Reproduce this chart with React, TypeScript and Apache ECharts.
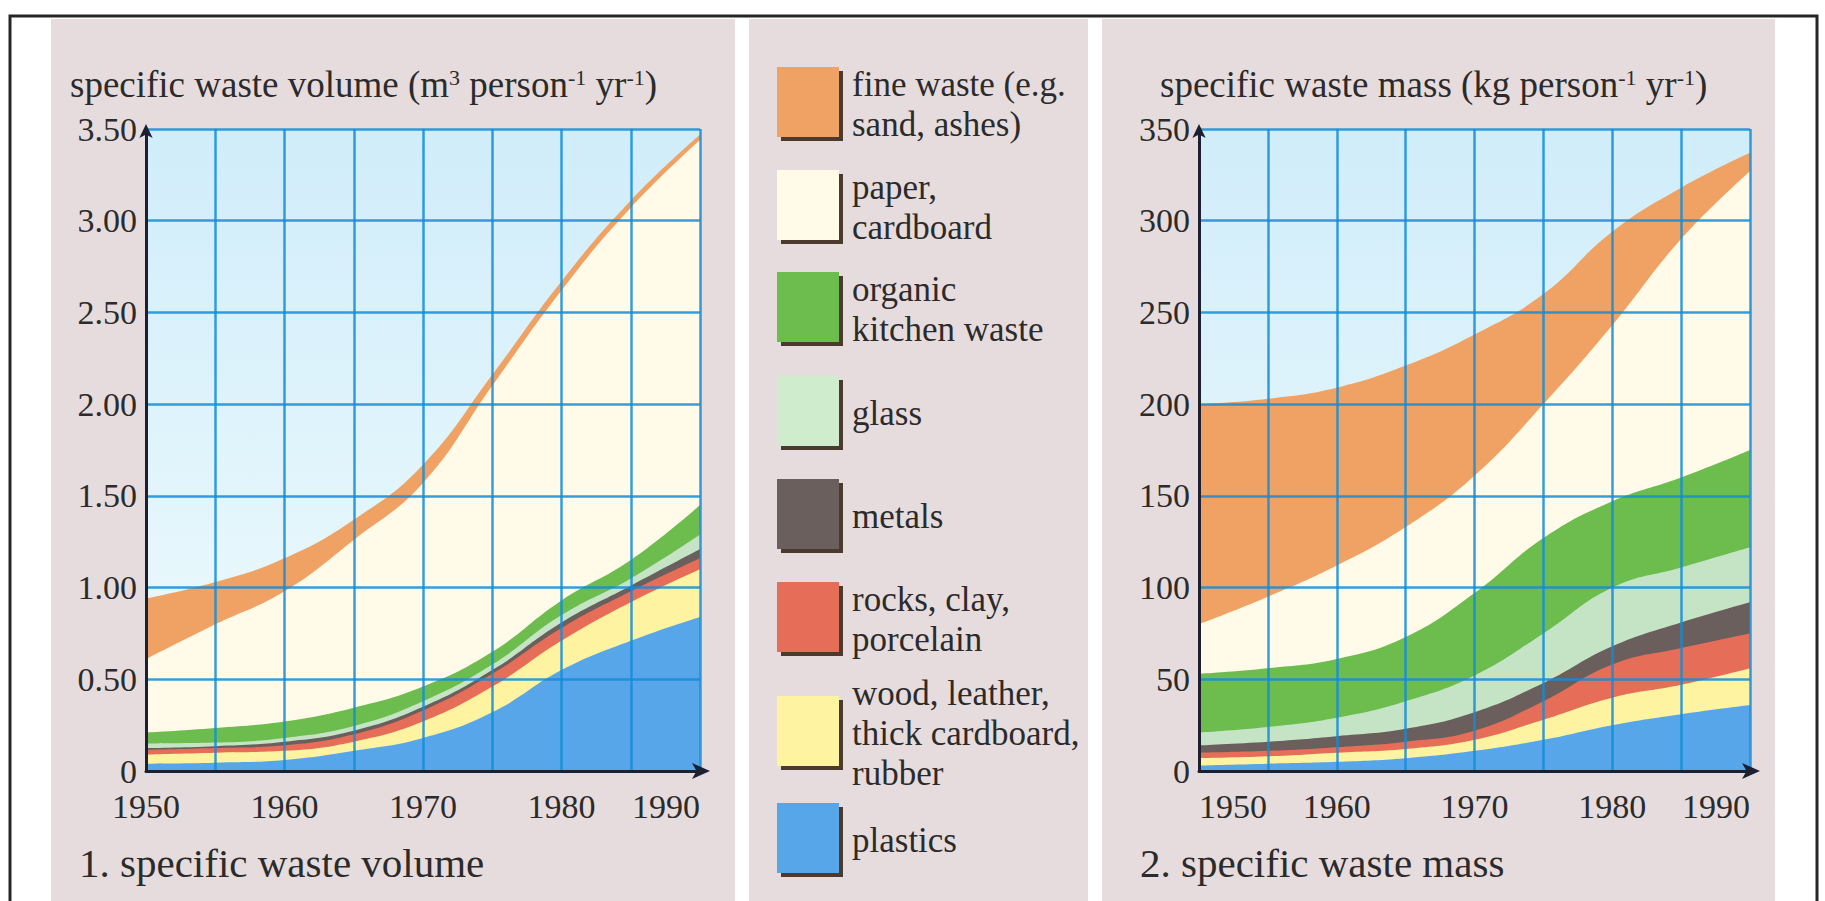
import React, { useEffect, useRef } from "react";
import * as echarts from "echarts";

// ---------- data ----------
const years = [1950, 1955, 1960, 1965, 1970, 1975, 1980, 1985, 1990];

// specific waste volume (m3 person-1 yr-1), thickness of each layer
const volPlastics = [0.04, 0.045, 0.06, 0.11, 0.18, 0.32, 0.55, 0.71, 0.84];
const volWood = [0.05, 0.055, 0.05, 0.05, 0.09, 0.14, 0.16, 0.21, 0.26];
const volRocks = [0.025, 0.025, 0.03, 0.04, 0.06, 0.07, 0.07, 0.06, 0.06];
const volMetals = [0.01, 0.01, 0.02, 0.02, 0.02, 0.02, 0.03, 0.03, 0.05];
const volGlass = [0.025, 0.02, 0.02, 0.025, 0.03, 0.03, 0.04, 0.04, 0.08];
const volOrganic = [0.06, 0.08, 0.09, 0.1, 0.08, 0.07, 0.08, 0.1, 0.16];
const volPaper = [0.4, 0.565, 0.71, 0.915, 1.11, 1.45, 1.69, 1.92, 1.99];
const volFine = [0.33, 0.23, 0.18, 0.11, 0.1, 0.06, 0.05, 0.04, 0.03];

// specific waste mass (kg person-1 yr-1), thickness of each layer
const massPlastics = [3, 4, 5, 7, 11, 17, 25, 31, 36];
const massWood = [4, 4, 5, 5, 6, 11, 15, 16, 20];
const massRocks = [3, 3, 3, 4, 5, 10, 18, 20, 19];
const massMetals = [4, 5, 6, 7, 10, 10, 10, 14, 17];
const massGlass = [7, 8, 10, 15, 20, 27, 32, 30, 30];
const massOrganic = [32, 32, 32, 35, 45, 52, 47, 49, 53];
const massPaper = [27, 39, 51, 60, 64, 73, 96, 130, 152];
const massFine = [120, 108, 97, 88, 77, 60, 51, 28, 10];

// bottom-to-top stacking order
const layerNames = [
  "plastics",
  "wood, leather, thick cardboard, rubber",
  "rocks, clay, porcelain",
  "metals",
  "glass",
  "organic kitchen waste",
  "paper, cardboard",
  "fine waste (e.g. sand, ashes)",
];
const layerColors = [
  "#58a6ea",
  "#fdf3a0",
  "#e66d57",
  "#6a5f5c",
  "#c4e4c5",
  "#6cbd4e",
  "#fffbe8",
  "#f0a264",
];
const volLayers = [volPlastics, volWood, volRocks, volMetals, volGlass, volOrganic, volPaper, volFine];
const massLayers = [massPlastics, massWood, massRocks, massMetals, massGlass, massOrganic, massPaper, massFine];

// legend (top-to-bottom as in the figure)
const legendLabels = [
  "fine waste (e.g.\nsand, ashes)",
  "paper,\ncardboard",
  "organic\nkitchen waste",
  "glass",
  "metals",
  "rocks, clay,\nporcelain",
  "wood, leather,\nthick cardboard,\nrubber",
  "plastics",
];
const legendColors = ["#f0a264", "#fffbe8", "#6cbd4e", "#cfeccc", "#6a5f5c", "#e66d57", "#fdf3a0", "#58a6ea"];
// vertical centre of each legend entry (layout, px)
const legendCenters = [102, 205, 307, 411, 514, 617, 731, 838];

const volumeAxis = { min: 0, max: 3.5, interval: 0.5 };
const massAxis = { min: 0, max: 350, interval: 50 };
const yearAxis = { min: 1950, max: 1990, interval: 5 };

const FONT = '"Liberation Serif", "Times New Roman", serif';
const TEXT = "#2b2b2b";
const GRIDLINE = "rgba(18,140,215,0.85)";
const AXIS = "#1c2030";
const PANEL = "#e7dcdd";

function plotBg() {
  return new echarts.graphic.LinearGradient(0, 0, 0, 1, [
    { offset: 0, color: "#d0edfa" },
    { offset: 1, color: "#f0fbfd" },
  ]);
}

function xAxisFor(gridIndex: number, minAlign: string) {
  return {
    gridIndex,
    type: "value",
    min: yearAxis.min,
    max: yearAxis.max,
    interval: yearAxis.interval,
    z: 5,
    axisLine: {
      show: true,
      lineStyle: { color: AXIS, width: 3 },
      symbol: ["none", "arrow"],
      symbolSize: [12, 18],
      symbolOffset: [0, 10],
    },
    axisTick: { show: false },
    splitLine: { show: true, lineStyle: { color: GRIDLINE, width: 2.5 } },
    axisLabel: {
      formatter: (v: number) => (v % 10 === 0 ? String(v) : ""),
      fontSize: 34,
      fontFamily: FONT,
      color: TEXT,
      margin: 18,
      alignMinLabel: minAlign,
      alignMaxLabel: "right",
    },
  };
}

function yAxisFor(gridIndex: number, cfg: { min: number; max: number; interval: number }, decimals: number) {
  return {
    gridIndex,
    type: "value",
    min: cfg.min,
    max: cfg.max,
    interval: cfg.interval,
    z: 5,
    axisLine: {
      show: true,
      lineStyle: { color: AXIS, width: 3 },
      symbol: ["none", "arrow"],
      symbolSize: [10, 14],
      symbolOffset: [0, 5],
    },
    axisTick: { show: false },
    splitLine: { show: true, lineStyle: { color: GRIDLINE, width: 2.5 } },
    axisLabel: {
      formatter: (v: number) => (v === 0 ? "0" : v.toFixed(decimals)),
      fontSize: 34,
      fontFamily: FONT,
      color: TEXT,
      margin: 9,
    },
  };
}

// each layer is drawn as the cumulative total down to zero, painted from the top layer
// downwards so the lower layers cover the upper ones (same look as a stacked area chart)
function seriesFor(gridIndex: number, layers: number[][]) {
  const cum: number[][] = [];
  layers.forEach((vals, k) => {
    cum.push(vals.map((v, i) => (k === 0 ? v : cum[k - 1][i] + v)));
  });
  const out: any[] = [];
  for (let k = layers.length - 1; k >= 0; k--) {
    out.push({
      name: layerNames[k],
      type: "line",
      xAxisIndex: gridIndex,
      yAxisIndex: gridIndex,
      smooth: 0.45,
      symbol: "none",
      z: 2,
      lineStyle: { width: 0 },
      areaStyle: { color: layerColors[k], opacity: 1, origin: "start" },
      data: years.map((y, i) => [y, +cum[k][i].toFixed(4)]),
    });
  }
  return out;
}

function buildOption() {
  const graphics: any[] = [];
  // outer frame and panels
  graphics.push({ type: "rect", z: 0, shape: { x: 51, y: 19, width: 684, height: 900 }, style: { fill: PANEL } });
  graphics.push({ type: "rect", z: 0, shape: { x: 749, y: 19, width: 339, height: 900 }, style: { fill: PANEL } });
  graphics.push({ type: "rect", z: 0, shape: { x: 1102, y: 19, width: 673, height: 900 }, style: { fill: PANEL } });
  graphics.push({
    type: "rect",
    z: 0,
    shape: { x: 10, y: 16, width: 1807, height: 920 },
    style: { fill: "none", stroke: "#262626", lineWidth: 3 },
  });
  // legend
  legendLabels.forEach((label, i) => {
    const c = legendCenters[i];
    const top = c - 35;
    graphics.push({ type: "rect", z: 1, shape: { x: 781, y: top + 4, width: 62, height: 70 }, style: { fill: "#4a3b2e" } });
    graphics.push({ type: "rect", z: 1, shape: { x: 777, y: top, width: 62, height: 70 }, style: { fill: legendColors[i] } });
    graphics.push({
      type: "text",
      z: 1,
      x: 852,
      y: c + 2,
      style: {
        text: label,
        fill: TEXT,
        fontSize: 35,
        fontFamily: FONT,
        lineHeight: 40,
        verticalAlign: "middle",
        align: "left",
      },
    });
  });

  const rich = {
    a: { fontSize: 37, fontFamily: FONT, color: TEXT, fontWeight: "normal" },
    s: { fontSize: 22, fontFamily: FONT, color: TEXT, fontWeight: "normal", verticalAlign: "top" },
  };

  return {
    animation: false,
    backgroundColor: "#ffffff",
    title: [
      {
        text: "{a|specific waste volume (m}{s|3}{a| person}{s|-1}{a| yr}{s|-1}{a|)}",
        left: 70,
        top: 66,
        padding: 0,
        textStyle: { rich, fontWeight: "normal" },
      },
      {
        text: "{a|specific waste mass (kg person}{s|-1}{a| yr}{s|-1}{a|)}",
        left: 1160,
        top: 66,
        padding: 0,
        textStyle: { rich, fontWeight: "normal" },
      },
      {
        text: "1. specific waste volume",
        left: 79,
        top: 842,
        padding: 0,
        textStyle: { fontSize: 41, fontFamily: FONT, color: TEXT, fontWeight: "normal" },
      },
      {
        text: "2. specific waste mass",
        left: 1140,
        top: 842,
        padding: 0,
        textStyle: { fontSize: 41, fontFamily: FONT, color: TEXT, fontWeight: "normal" },
      },
    ],
    grid: [
      { left: 146, right: 1125, top: 129, bottom: 130, show: true, z: 1, borderWidth: 0, backgroundColor: plotBg() },
      { left: 1199, right: 75, top: 129, bottom: 130, show: true, z: 1, borderWidth: 0, backgroundColor: plotBg() },
    ],
    xAxis: [xAxisFor(0, "center"), xAxisFor(1, "left")],
    yAxis: [yAxisFor(0, volumeAxis, 2), yAxisFor(1, massAxis, 0)],
    series: [...seriesFor(0, volLayers), ...seriesFor(1, massLayers)],
    graphic: graphics,
  };
}

export default function App() {
  const ref = useRef<HTMLDivElement | null>(null);
  useEffect(() => {
    if (!ref.current) return;
    const chart = echarts.init(ref.current, undefined, { renderer: "svg" });
    chart.setOption(buildOption() as any);
    return () => chart.dispose();
  }, []);
  return (
    <div
      ref={ref}
      style={{ position: "fixed", left: 0, top: 0, width: 1825, height: 901, background: "#fff" }}
    />
  );
}
